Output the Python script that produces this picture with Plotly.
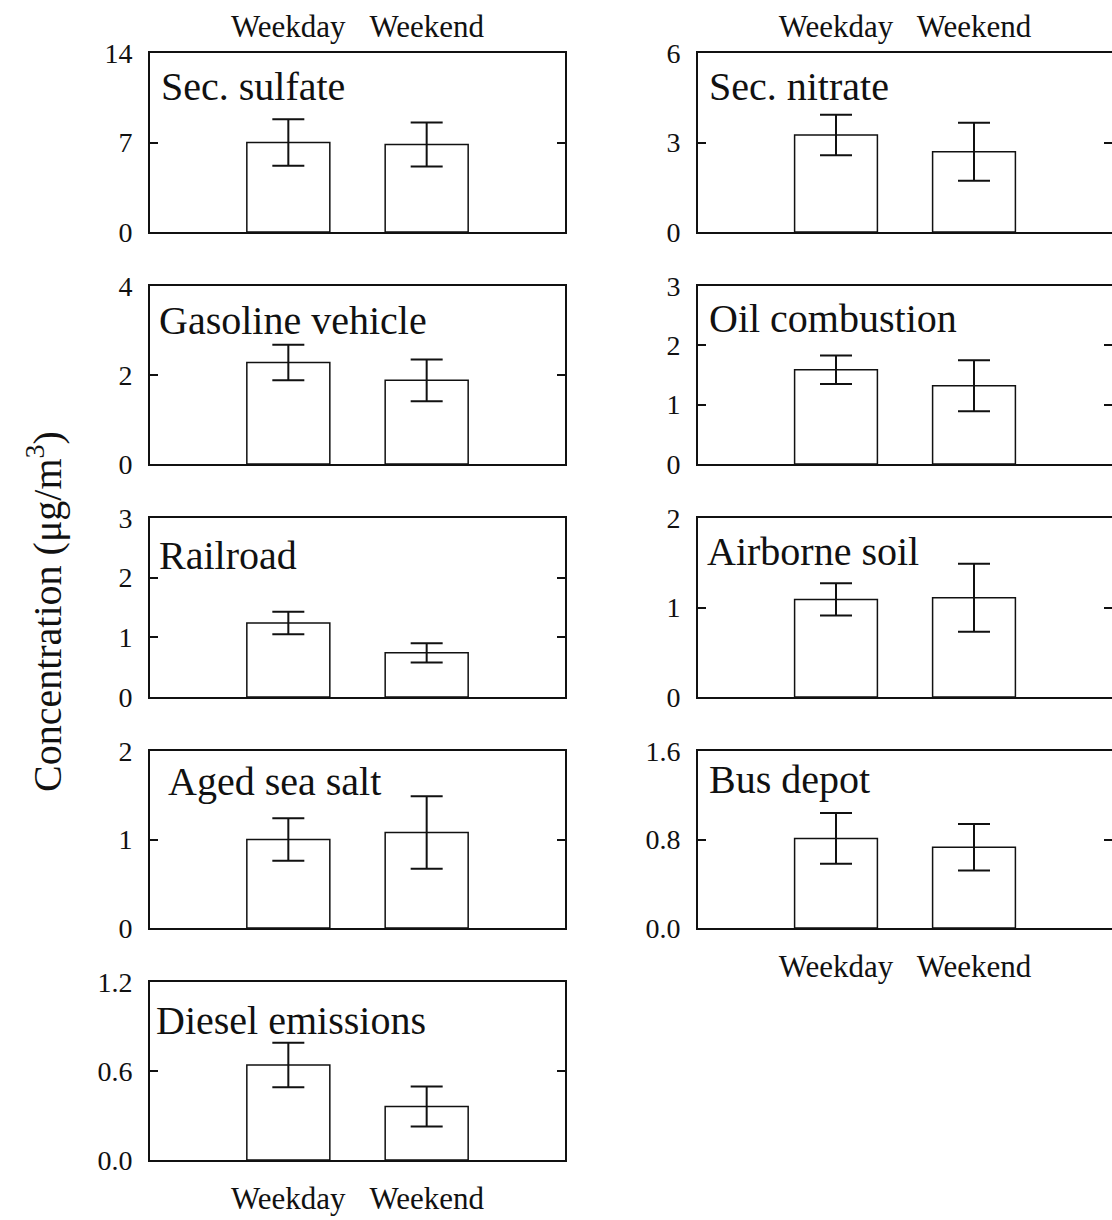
import plotly.graph_objects as go

# ---------------- data ----------------
categories = ["Weekday", "Weekend"]
sources = ["Sec. sulfate", "Gasoline vehicle", "Railroad", "Aged sea salt", "Diesel emissions",
           "Sec. nitrate", "Oil combustion", "Airborne soil", "Bus depot"]
weekday_mean = [7.0, 2.28, 1.24, 1.00, 0.64, 3.25, 1.59, 1.09, 0.81]
weekday_err = [1.82, 0.40, 0.19, 0.24, 0.15, 0.68, 0.24, 0.18, 0.23]
weekend_mean = [6.85, 1.88, 0.74, 1.08, 0.36, 2.69, 1.32, 1.11, 0.73]
weekend_err = [1.72, 0.47, 0.16, 0.41, 0.135, 0.97, 0.43, 0.38, 0.21]
y_max = [14, 4, 3, 2, 1.2, 6, 3, 2, 1.6]
y_tickvals = [[0, 7, 14], [0, 2, 4], [0, 1, 2, 3], [0, 1, 2], [0, 0.6, 1.2],
              [0, 3, 6], [0, 1, 2, 3], [0, 1, 2], [0, 0.8, 1.6]]
y_ticktext = [["0", "7", "14"], ["0", "2", "4"], ["0", "1", "2", "3"], ["0", "1", "2"],
              ["0.0", "0.6", "1.2"], ["0", "3", "6"], ["0", "1", "2", "3"], ["0", "1", "2"],
              ["0.0", "0.8", "1.6"]]
y_title = "Concentration (μg/m<sup>3</sup>)"

# ---------------- layout geometry (pixels) ----------------
W, H = 1112, 1220
col_x = [(150, 565), (698, 1112)]
row_y = [(53, 232), (286, 464), (518, 697), (751, 928), (982, 1160)]
# (column, row) of each panel
panel_pos = [(0, 0), (0, 1), (0, 2), (0, 3), (0, 4), (1, 0), (1, 1), (1, 2), (1, 3)]
# label offset inside panel (px from left, px from top of panel to text top)
label_off = [(9, 9), (7, 10), (7, 13), (16, 6), (4, 14), (9, 9), (9, 8), (7, 9), (9, 4)]

FONT = "Liberation Serif"
BLACK = "#111111"

fig = go.Figure()
annotations = []

for i, name in enumerate(sources):
    n = i + 1
    xa = "x" if n == 1 else f"x{n}"
    ya = "y" if n == 1 else f"y{n}"
    col, row = panel_pos[i]
    fig.add_trace(go.Bar(
        x=categories,
        y=[weekday_mean[i], weekend_mean[i]],
        error_y=dict(type="data", array=[weekday_err[i], weekend_err[i]],
                     color=BLACK, thickness=2, width=16),
        marker=dict(color="white", line=dict(color=BLACK, width=1.5)),
        width=0.6,
        xaxis=xa, yaxis=ya,
        showlegend=False,
    ))
    x0, x1 = col_x[col]
    t, b = row_y[row]
    xdom = [x0 / W, x1 / W]
    ydom = [1 - b / H, 1 - t / H]

    is_top = row == 0
    is_bottom = (col == 0 and row == 4) or (col == 1 and row == 3)
    xaxis = dict(
        domain=xdom, anchor=ya, type="category", range=[-1, 2],
        showline=True, linecolor=BLACK, linewidth=2, mirror=True,
        ticks="", showgrid=False, zeroline=False,
        showticklabels=is_top or is_bottom,
        side="top" if is_top else "bottom",
        tickfont=dict(family=FONT, size=31, color=BLACK),
        ticklabelstandoff=2 if is_top else 10,
        fixedrange=True, automargin=False,
    )
    yaxis = dict(
        domain=ydom, anchor=xa, range=[0, y_max[i]],
        showline=True, linecolor=BLACK, linewidth=2, mirror="ticks",
        ticks="inside", ticklen=8, tickwidth=2, tickcolor=BLACK,
        tickvals=y_tickvals[i], ticktext=y_ticktext[i],
        tickfont=dict(family=FONT, size=28, color=BLACK),
        ticklabelstandoff=10,
        showgrid=False, zeroline=False, fixedrange=True, automargin=False,
    )
    fig.layout[f"xaxis{'' if n == 1 else n}"] = xaxis
    fig.layout[f"yaxis{'' if n == 1 else n}"] = yaxis

    dx, dy = label_off[i]
    annotations.append(dict(
        text=name, xref=f"{xa} domain", yref=f"{ya} domain",
        x=dx / (x1 - x0), y=1 - dy / (b - t),
        xanchor="left", yanchor="top", showarrow=False,
        font=dict(family=FONT, size=40, color=BLACK),
    ))

annotations.append(dict(
    text=y_title, xref="paper", yref="paper",
    x=44 / W, y=1 - 612 / H, xanchor="center", yanchor="middle",
    textangle=-90, showarrow=False,
    font=dict(family=FONT, size=40, color=BLACK),
))

fig.update_layout(
    template="none",
    font=dict(family=FONT, color=BLACK),
    width=W, height=H,
    margin=dict(l=0, r=0, t=0, b=0, autoexpand=False),
    paper_bgcolor="white", plot_bgcolor="white",
    annotations=annotations,
    bargap=0.4,
)

fig.write_html("out.html")
